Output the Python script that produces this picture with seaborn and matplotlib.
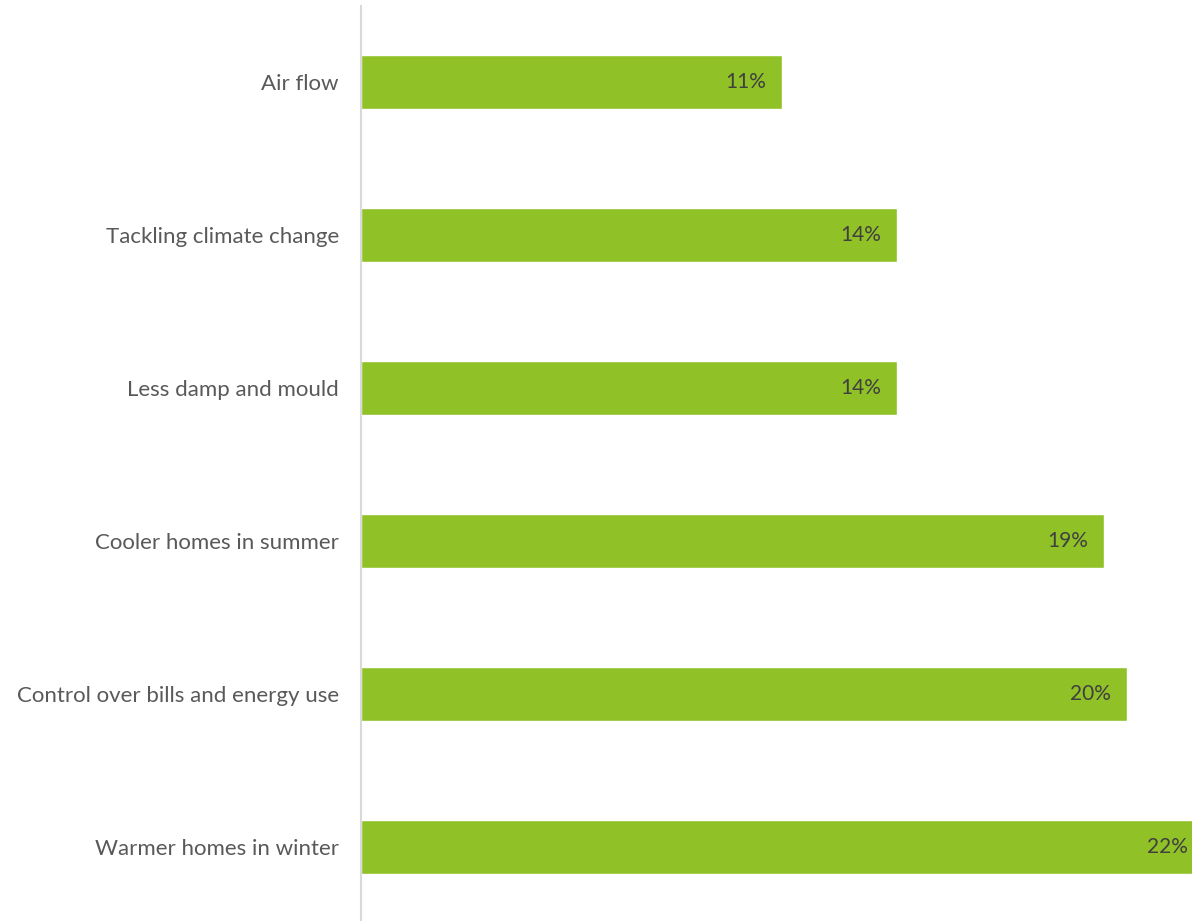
import matplotlib
matplotlib.use("Agg")
import matplotlib.pyplot as plt
import seaborn as sns

# data
categories = [
    "Air flow",
    "Tackling climate change",
    "Less damp and mould",
    "Cooler homes in summer",
    "Control over bills and energy use",
    "Warmer homes in winter",
]
values = [11, 14, 14, 19.4, 20, 22]
value_labels = [f"{round(v)}%" for v in values]

bar_green = "#90C127"
label_grey = "#595959"
value_grey = "#404040"

sns.set_style("white")
plt.rcParams["font.family"] = ["Lato", "DejaVu Sans"]

fig = plt.figure(figsize=(11.92, 9.21), dpi=100)
ax = fig.add_axes([361 / 1192, -0.003, 831 / 1192, 0.997])

sns.barplot(x=values, y=categories, orient="h", color=bar_green,
            saturation=1, width=0.353, ax=ax)

# value labels sit inside the bar end (last bar runs past the frame)
for i, (v, lbl) in enumerate(zip(values, value_labels)):
    ax.annotate(lbl, (v, i), xytext=(-11.5, 0), textcoords="offset points",
                ha="right", va="center", fontsize=15, color=value_grey,
                annotation_clip=False)

ax.set_xlim(0, 21.7)
ax.set_ylim(5.5, -0.5)
ax.set_xlabel("")
ax.set_ylabel("")
ax.set_xticks([])
ax.tick_params(axis="y", length=0, pad=16, labelsize=16, labelcolor=label_grey)

for side in ["top", "right", "bottom"]:
    ax.spines[side].set_visible(False)
ax.spines["left"].set_color("#D9D9D9")
ax.spines["left"].set_linewidth(1.5)

fig.savefig("out.png", dpi=100)
